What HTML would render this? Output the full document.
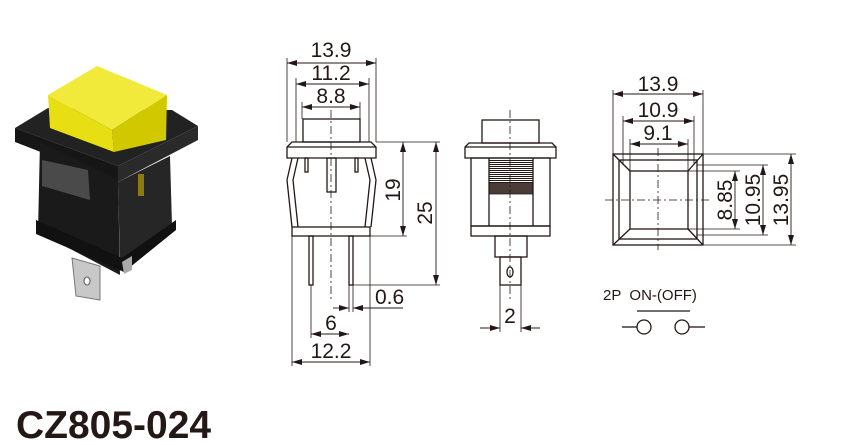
<!DOCTYPE html>
<html><head><meta charset="utf-8"><style>
html,body{margin:0;padding:0;background:#fff;}
svg{display:block;}
text{font-family:"Liberation Sans",sans-serif;fill:#231815;}
</style></head><body>
<svg width="860" height="445" viewBox="0 0 860 445" xmlns="http://www.w3.org/2000/svg">
<defs>
<marker id="a" viewBox="0 0 10 6" refX="10" refY="3" markerWidth="10" markerHeight="6" orient="auto-start-reverse" markerUnits="userSpaceOnUse"><path d="M0,0 L10,3 L0,6 z" fill="#231815"/></marker>
<pattern id="h" width="4" height="2" patternUnits="userSpaceOnUse"><rect width="4" height="1" fill="#231815"/></pattern>
</defs>

<!-- photo -->
<g>
<!-- frame -->
<polygon points="15,128 48,108 172,110 198,126 118,166" fill="#222"/>
<polygon points="15,128 118,166 118,182 15,142" fill="#161616"/>
<polygon points="118,166 198,126 198,140 118,182" fill="#2a2a2a"/>
<!-- body -->
<polygon points="40,142 118,180 120,275 38,232" fill="#1a1a1a"/>
<polygon points="42,160 88,170 90,200 42,186" fill="#4a4a4a"/>
<polygon points="118,182 170,156 172,225 120,262" fill="#262626"/>
<rect x="138" y="174" width="6" height="22" fill="#8a7a10"/>
<polygon points="36,220 122,258 176,220 176,230 124,272 36,234" fill="#111"/>
<!-- tabs -->
<polygon points="72,258 100,266 100,300 76,296" fill="#c8c8c8" stroke="#777"/>
<ellipse cx="87" cy="281" rx="3" ry="4" fill="#fff" stroke="#555"/>
<polygon points="122,262 132,256 132,270 124,274" fill="#aaa"/>
<!-- cap -->
<polygon points="48,95 97,66 167,95 112,130" fill="#f2ea3a"/>
<polygon points="48,95 112,130 114,152 50,128" fill="#e7df14"/>
<polygon points="112,130 167,95 166,140 114,152" fill="#d2c800"/>
</g>

<g stroke="#231815" fill="none" stroke-width="1.3">
<!-- LEFT VIEW -->
<rect x="303" y="119" width="57" height="23"/>
<polygon points="292,142 371,142 376,147 376,158 287,158 287,147"/>
<line x1="287" y1="147" x2="376" y2="147"/>
<path d="M292,158 L287,180 L292,227 M298,158 L293,180 L298,227"/>
<path d="M371,158 L376,180 L371,227 M365,158 L370,180 L365,227"/>
<rect x="292" y="227" width="78" height="9"/>
<rect x="305" y="158" width="3" height="14"/><rect x="355" y="158" width="3" height="14"/>
<rect x="327" y="158" width="9" height="34"/>
<rect x="309" y="236" width="4" height="49"/><rect x="349" y="236" width="4" height="49"/>
<line x1="331" y1="110" x2="331" y2="300" stroke-dasharray="8,3,2,3" stroke-width="0.8"/>
<g stroke-width="0.8">
<line x1="287" y1="58" x2="287" y2="142"/><line x1="376" y1="58" x2="376" y2="142"/>
<line x1="296" y1="78" x2="296" y2="142"/><line x1="369" y1="78" x2="369" y2="142"/>
<line x1="302" y1="102" x2="302" y2="119"/><line x1="360" y1="102" x2="360" y2="119"/>
<line x1="376" y1="142" x2="440" y2="142"/><line x1="370" y1="236" x2="407" y2="236"/>
<line x1="353" y1="285" x2="440" y2="285"/>
<line x1="349" y1="285" x2="349" y2="312"/><line x1="353" y1="285" x2="353" y2="312"/>
<line x1="311" y1="285" x2="311" y2="338"/>
<line x1="292" y1="236" x2="292" y2="366"/><line x1="370" y1="236" x2="370" y2="366"/>
</g>
<g stroke-width="0.9" marker-start="url(#a)" marker-end="url(#a)">
<line x1="287" y1="63" x2="376" y2="63"/>
<line x1="296" y1="84" x2="369" y2="84"/>
<line x1="302" y1="107" x2="360" y2="107"/>
<line x1="403" y1="142" x2="403" y2="236"/>
<line x1="436" y1="142" x2="436" y2="285"/>
<line x1="311" y1="334" x2="349" y2="334"/>
<line x1="292" y1="362" x2="370" y2="362"/>
</g>
<g stroke-width="0.9"><line x1="333" y1="308" x2="349" y2="308" marker-end="url(#a)"/><line x1="353" y1="308" x2="403" y2="308" marker-start="url(#a)"/></g>

<!-- MIDDLE VIEW -->
<rect x="482" y="120" width="57" height="23"/>
<polygon points="469,143 552,143 556,147 556,158 465,158 465,147"/>
<line x1="465" y1="147" x2="556" y2="147"/>
<rect x="471" y="158" width="79" height="68"/>
<rect x="489" y="159" width="44" height="24" fill="url(#h)" stroke="none"/>
<rect x="489" y="183" width="44" height="11" fill="#4a3c36" stroke="none"/>
<line x1="489" y1="194" x2="533" y2="194" stroke-width="0.8"/>
<line x1="489" y1="158" x2="489" y2="226"/><line x1="533" y1="158" x2="533" y2="226"/>
<rect x="471" y="226" width="79" height="10"/>
<rect x="495" y="236" width="32" height="21"/>
<rect x="500" y="257" width="21" height="28"/>
<ellipse cx="510" cy="272" rx="3" ry="5"/>
<line x1="510" y1="110" x2="510" y2="300" stroke-dasharray="8,3,2,3" stroke-width="0.8"/>
<g stroke-width="0.8"><line x1="500" y1="285" x2="500" y2="332"/><line x1="521" y1="285" x2="521" y2="332"/></g>
<g stroke-width="0.9"><line x1="480" y1="328" x2="500" y2="328" marker-end="url(#a)"/><line x1="521" y1="328" x2="540" y2="328" marker-start="url(#a)"/></g>

<!-- RIGHT VIEW -->
<rect x="613" y="154" width="90" height="91"/>
<rect x="619" y="160" width="78" height="79"/>
<rect x="630" y="171" width="58" height="58"/>
<path d="M613,154 L630,171 M703,154 L688,171 M613,245 L630,229 M703,245 L688,229"/>
<g stroke-width="0.8" stroke-dasharray="8,3,2,3"><line x1="658" y1="148" x2="658" y2="250"/><line x1="605" y1="200" x2="712" y2="200"/></g>
<g stroke-width="0.8">
<line x1="613" y1="90" x2="613" y2="154"/><line x1="703" y1="90" x2="703" y2="154"/>
<line x1="623" y1="116" x2="623" y2="165"/><line x1="694" y1="116" x2="694" y2="165"/>
<line x1="630" y1="139" x2="630" y2="171"/><line x1="688" y1="139" x2="688" y2="171"/>
<line x1="688" y1="171" x2="740" y2="171"/><line x1="688" y1="229" x2="740" y2="229"/>
<line x1="697" y1="165" x2="768" y2="165"/><line x1="697" y1="235" x2="768" y2="235"/>
<line x1="703" y1="154" x2="796" y2="154"/><line x1="703" y1="245" x2="796" y2="245"/>
</g>
<g stroke-width="0.9" marker-start="url(#a)" marker-end="url(#a)">
<line x1="613" y1="94" x2="703" y2="94"/>
<line x1="623" y1="121" x2="694" y2="121"/>
<line x1="630" y1="144" x2="688" y2="144"/>
<line x1="735" y1="171" x2="735" y2="229"/>
<line x1="763" y1="165" x2="763" y2="235"/>
<line x1="791" y1="154" x2="791" y2="245"/>
</g>
<line x1="637" y1="311" x2="690" y2="311"/>
<line x1="622" y1="327" x2="637" y2="327"/><circle cx="644" cy="327" r="7"/>
<circle cx="682" cy="327" r="7"/><line x1="689" y1="327" x2="705" y2="327"/>
</g>

<g font-size="21">
<text x="331" y="57" text-anchor="middle">13.9</text>
<text x="331" y="80" text-anchor="middle">11.2</text>
<text x="331" y="103" text-anchor="middle">8.8</text>
<text x="375" y="304">0.6</text>
<text x="331" y="330" text-anchor="middle">6</text>
<text x="331" y="358" text-anchor="middle">12.2</text>
<text transform="translate(400,190) rotate(-90)" text-anchor="middle">19</text>
<text transform="translate(432,213) rotate(-90)" text-anchor="middle">25</text>
<text x="510" y="323" text-anchor="middle">2</text>
<text x="658" y="91" text-anchor="middle">13.9</text>
<text x="658" y="117" text-anchor="middle">10.9</text>
<text x="658" y="140" text-anchor="middle">9.1</text>
<text transform="translate(732,200) rotate(-90)" text-anchor="middle">8.85</text>
<text transform="translate(760,200) rotate(-90)" text-anchor="middle">10.95</text>
<text transform="translate(788,200) rotate(-90)" text-anchor="middle">13.95</text>
</g>
<text x="603" y="300" font-size="15" xml:space="preserve">2P  ON-(OFF)</text>
<text x="16" y="438" font-size="39" font-weight="bold">CZ805-024</text>
</svg>
</body></html>
